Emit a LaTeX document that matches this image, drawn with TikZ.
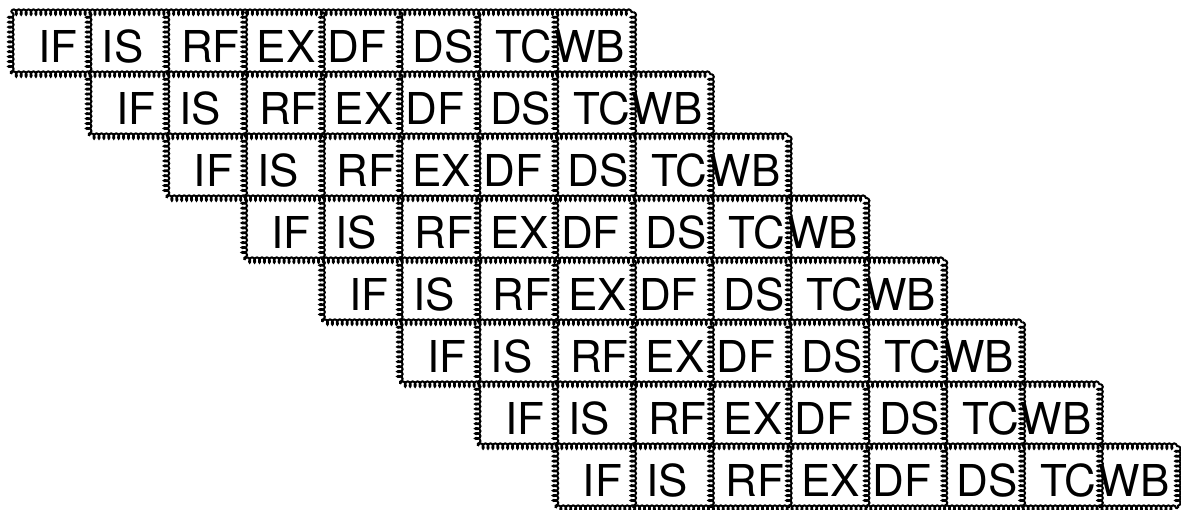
\documentclass[tikz,border=0pt]{standalone}
\usepackage{fontspec}
\setmainfont{TeX Gyre Heros}
\usetikzlibrary{decorations.pathmorphing}
\definecolor{ink}{HTML}{000000}
\definecolor{paper}{HTML}{FFFFFF}
\tikzset{
  stage/.style={rectangle,inner sep=0pt,outer sep=0pt,
                minimum width=1.556cm,minimum height=1.24cm,
                text height=22.4pt,text depth=0pt,text=ink,
                font=\fontsize{25}{30}\selectfont},
  rope/.style={draw=ink,line width=1.15pt,decorate,
               decoration={coil,amplitude=1.5pt,segment length=2.8pt,aspect=0.6}}
}

\begin{document}
\begin{tikzpicture}[x=0.02cm,y=-0.02cm]
  \useasboundingbox[fill=paper] (0,0) rectangle (1181,510);
  % one row per instruction, shifted one stage each
  \foreach \r in {1,...,8}{
    \foreach \lbl/\kk [count=\j] in {IF/9,IS/-5.7,RF/5.7,EX/3.4,DF/-4.5,DS/4.5,TC/8,WB/-5.7}{
      \node[stage] (c-\r-\j) at ({11+38.9+(\r+\j-2)*77.8},{12+31+(\r-1)*62}) {\kern\kk pt\lbl};
    }
  }
  % horizontal borders
  \draw[rope] (c-1-1.north west) -- (c-1-8.north east);
  \foreach \r [evaluate=\r as \s using int(\r+1)] in {1,...,7}{
    \draw[rope] (c-\r-1.south west) -- (c-\s-8.north east);
  }
  \draw[rope] (c-8-1.south west) -- (c-8-8.south east);
  % vertical borders
  \foreach \r in {1,...,8}{
    \foreach \j in {1,...,8}{
      \draw[rope] (c-\r-\j.north west) -- (c-\r-\j.south west);
    }
    \draw[rope] (c-\r-8.north east) -- (c-\r-8.south east);
  }
\end{tikzpicture}
\end{document}
